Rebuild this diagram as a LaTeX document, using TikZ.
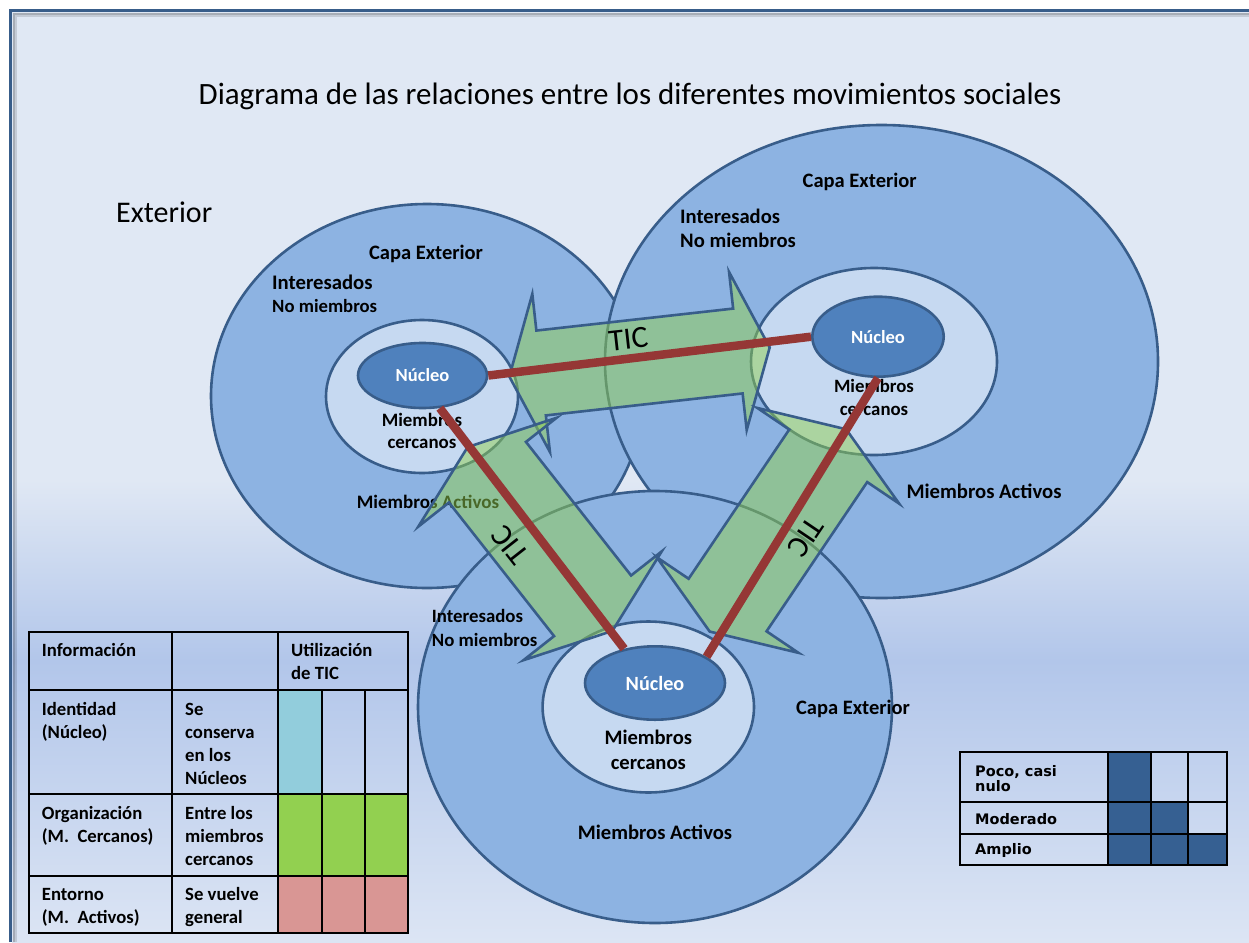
\documentclass[tikz,border=0pt]{standalone}
\usepackage{fontspec}
\setmainfont{Carlito}
\newfontfamily\legendfont{DejaVu Sans}
\usetikzlibrary{shapes.geometric}
\definecolor{edgeblue}{HTML}{385D8A}
\definecolor{outerfill}{HTML}{8DB3E2}
\definecolor{innerfill}{HTML}{C6D9F1}
\definecolor{nucfill}{HTML}{4F81BD}
\definecolor{arrowgreen}{HTML}{92D050}
\definecolor{redline}{HTML}{953735}
\definecolor{bgtop}{HTML}{E0E8F4}
\definecolor{bgmid}{HTML}{B2C6EA}
\definecolor{bgbot}{HTML}{DCE5F4}
\definecolor{tblue}{HTML}{92CDDC}
\definecolor{tgreen}{HTML}{92D050}
\definecolor{tpink}{HTML}{D99694}
\definecolor{dkblue}{HTML}{366092}
\newcommand\fsz[2]{\fontsize{#1}{#2}\selectfont}
\begin{document}
\begin{tikzpicture}[x=1pt,y=-1pt,
  capa/.style={ellipse, draw=edgeblue, line width=2.6pt, inner sep=0pt, fill=outerfill},
  cerca/.style={ellipse, draw=edgeblue, line width=2.6pt, inner sep=0pt, fill=innerfill},
  nuc/.style={ellipse, draw=edgeblue, line width=2.6pt, inner sep=0pt, fill=nucfill, text=white},
  ticarrow/.style={fill=arrowgreen, fill opacity=0.5, draw=edgeblue, line width=2.6pt, line join=miter},
  redl/.style={draw=redline, line width=8.5pt},
  lab/.style={inner sep=0pt, text=black},
  ticlab/.style={inner sep=0pt, font=\fsz{31}{36}},
  tline/.style={draw=black, line width=2.2pt},
  ttext/.style={inner sep=0pt, anchor=north west, align=left, font=\bfseries\fsz{18.7}{23}},
  ltext/.style={inner sep=0pt, font=\legendfont\bfseries\fsz{14.5}{15}}
]
\useasboundingbox (0,0) rectangle (1249,942);
% background
\fill[white] (0,0) rectangle (1249,942);
\fill[bgtop] (12,12) rectangle (1249,481);
\shade[top color=bgtop, bottom color=bgmid] (12,480) rectangle (1249,661);
\shade[top color=bgmid, bottom color=bgbot] (12,660) rectangle (1249,942);
\draw[black, opacity=0.25, line width=2pt] (14,942) -- (14,14) -- (1249,14);
\draw[black, opacity=0.12, line width=2pt] (16,942) -- (16,16) -- (1249,16);
\draw[edgeblue, line width=3pt] (10.5,942) -- (10.5,11) -- (1249,11);

% left movement
\node[capa, minimum width=432, minimum height=384] (lout) at (427,396) {};
\node[cerca, minimum width=192, minimum height=153] (lin) at (422,396.5) {};
\node[nuc, minimum width=129, minimum height=65, font=\bfseries\fsz{18.5}{22}] (lnuc) at (422.5,375.5) {Núcleo};
% right movement
\node[capa, minimum width=553, minimum height=473] (rout) at (881.5,361.5) {};
\node[cerca, minimum width=246, minimum height=187] (rin) at (874,361.5) {};
\node[nuc, minimum width=131.4, minimum height=80, font=\bfseries\fsz{18.6}{22}] (rnuc) at (878,336.7) {Núcleo};
% bottom movement
\node[capa, minimum width=474, minimum height=432] (bout) at (655,707) {};
\node[cerca, minimum width=211.4, minimum height=171] (bin) at (648.3,707) {};
\node[nuc, minimum width=140, minimum height=73.4, font=\bfseries\fsz{20.2}{24}] (bnuc) at (655,683) {Núcleo};

% tables
\fill[tblue] (278.3,690) rectangle (321.7,794);
\fill[tgreen] (278.3,794) rectangle (408.3,876);
\fill[tpink] (278.3,876) rectangle (408.3,933.3);
\draw[tline] (29,631.7) rectangle (408.3,933.3);
\draw[tline] (171.7,631.7) -- (171.7,933.3);
\draw[tline] (278.3,631.7) -- (278.3,933.3);
\draw[tline] (321.7,690) -- (321.7,933.3);
\draw[tline] (365,690) -- (365,933.3);
\draw[tline] (29,690) -- (408.3,690);
\draw[tline] (29,794) -- (408.3,794);
\draw[tline] (29,876) -- (408.3,876);
\node[ttext] (t11) at (41.7,639.9) {\strut Información};
\node[ttext] (t13) at (291,639.9) {\strut Utilización\\de TIC};
\node[ttext] (t21) at (41.7,698.9) {\strut Identidad\\(Núcleo)};
\node[ttext] (t22) at (185,698.9) {\strut Se\\conserva\\en los\\Núcleos};
\node[ttext] (t31) at (41.7,803.2) {\strut Organización\\(M.\ \ Cercanos)};
\node[ttext] (t32) at (185,803.2) {\strut Entre los\\miembros\\cercanos};
\node[ttext] (t41) at (41.7,884.6) {\strut Entorno\\(M.\ \ Activos)};
\node[ttext] (t42) at (185,884.6) {\strut Se vuelve\\general};

\fill[dkblue] (1108.3,751.7) rectangle (1150.7,801.7);
\fill[dkblue] (1108.3,801.7) rectangle (1188.3,834);
\fill[dkblue] (1108.3,834) rectangle (1226.7,865);
\draw[tline] (960,751.7) rectangle (1226.7,865);
\draw[tline] (1108.3,751.7) -- (1108.3,865);
\draw[tline] (1150.7,751.7) -- (1150.7,865);
\draw[tline] (1188.3,751.7) -- (1188.3,865);
\draw[tline] (960,801.7) -- (1226.7,801.7);
\draw[tline] (960,834) -- (1226.7,834);
\node[ltext, anchor=north west, align=left] (l1) at (975,765.7) {\vrule height 11pt width 0pt Poco, casi\\nulo};
\node[ltext, anchor=base west] (l2) at (975,824) {Moderado};
\node[ltext, anchor=base west] (l3) at (975,854.3) {Amplio};

% texts
\node[lab, anchor=base, font=\fsz{31}{36}] (title) at (630,104) {Diagrama de las relaciones entre los diferentes movimientos sociales};
\node[lab, anchor=base west, font=\fsz{30}{34}] (ext) at (116,222) {Exterior};

\node[lab, anchor=base, font=\bfseries\fsz{20.5}{24}] (lcapa) at (426,259.5) {Capa Exterior};
\node[lab, anchor=north west, align=left, font=\bfseries\fsz{20.7}{23}] (lint) at (272,273.2) {\strut Interesados\\{\fsz{18.7}{23}No miembros}};
\node[lab, anchor=north, align=center, font=\bfseries\fsz{18.9}{22.7}] (lcer) at (422,410.1) {\strut Miembros\\cercanos};
\node[lab, anchor=base, font=\bfseries\fsz{19}{23}] (lact) at (428,508.3) {Miembros Activos};

\node[lab, anchor=base, font=\bfseries\fsz{20.5}{24}] (rcapa) at (859.7,187.3) {Capa Exterior};
\node[lab, anchor=north west, align=left, font=\bfseries\fsz{20.6}{24.3}] (rint) at (680,206.3) {\strut Interesados\\No miembros};
\node[lab, anchor=north, align=center, font=\bfseries\fsz{18.8}{22.3}] (rcer) at (874,377.1) {\strut Miembros\\cercanos};
\node[lab, anchor=base, font=\bfseries\fsz{20.7}{24}] (ract) at (984,498.3) {Miembros Activos};

\node[lab, anchor=base, font=\bfseries\fsz{20.5}{24}] (bcapa) at (853,714.3) {Capa Exterior};
\node[lab, anchor=north west, align=left, font=\bfseries\fsz{18.8}{23.3}] (bint) at (431.7,606.4) {\strut Interesados\\No miembros};
\node[lab, anchor=north, align=center, font=\bfseries\fsz{20.6}{25}] (bcer) at (648.3,726.5) {\strut Miembros\\cercanos};
\node[lab, anchor=base, font=\bfseries\fsz{20.6}{24}] (bact) at (655,839.3) {Miembros Activos};

% TIC arrows
\draw[ticarrow, shift={(639.5,362)}, rotate=6.37]
  (-131,0) -- (-99,-79.5) -- (-99,-42.7) -- (99,-42.7) -- (99,-79.5) -- (131,0)
  -- (99,79.5) -- (99,42.7) -- (-99,42.7) -- (-99,79.5) -- cycle;
\draw[ticarrow, shift={(540,539)}, rotate=-51.8]
  (-117,0) -- (-85,-88) -- (-85,-49) -- (85,-49) -- (85,-88) -- (117,0)
  -- (85,88) -- (85,49) -- (-85,49) -- (-85,88) -- cycle;
\draw[ticarrow, shift={(777.9,530.4)}, rotate=56]
  (-122,0) -- (-90,-85.5) -- (-90,-47) -- (90,-47) -- (90,-85.5) -- (122,0)
  -- (90,85.5) -- (90,47) -- (-90,47) -- (-90,85.5) -- cycle;

% relations
\draw[redl] (lnuc.east) -- (rnuc.west);
\draw[redl] (lnuc.-62) -- (bnuc.132);
\draw[redl] (rnuc.south) -- (bnuc.27);

\node[ticlab, rotate=6.37] (tic1) at (628.3,339.3) {TIC};
\node[ticlab, rotate=128.2] (tic2) at (510,545) {TIC};
\node[ticlab, rotate=-124] (tic3) at (806,537) {TIC};
\end{tikzpicture}
\end{document}
